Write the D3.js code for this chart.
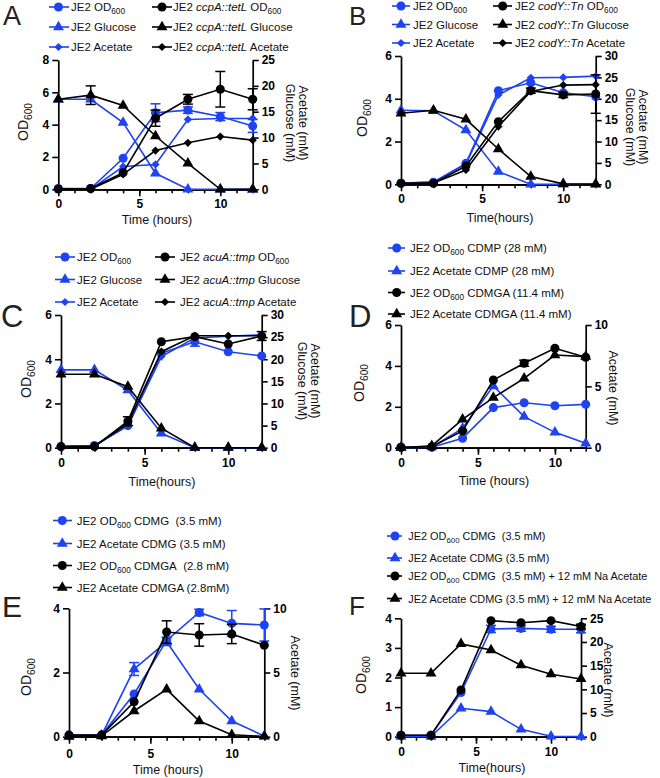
<!DOCTYPE html>
<html><head><meta charset="utf-8">
<script src="https://cdn.jsdelivr.net/npm/d3@7"></script>
<style>body{margin:0;background:#fff}svg{display:block}text{font-family:"Liberation Sans",Arial,Helvetica,sans-serif}</style>
</head><body><svg id="c" width="660" height="778"></svg>
<script>
// ---------- DATA ----------
const hours = [0, 2, 4, 6, 8, 10, 12];
const xMajorTicks = [0, 5, 10];

// Panel A (OD600 left axis, mM right axis)
const aJE2OD    = [0.05, 0.05, 1.92, 4.74, 4.9, 4.5, 3.92];
const aJE2ODErr = [0, 0, 0, 0.55, 0.2, 0.25, 0.4];
const aJE2Glc   = [17.4, 17.4, 12.9, 3.1, 0, 0, 0];
const aJE2Ace   = [0, 0, 4.4, 4.8, 13.5, 13.7, 13.7];
const aMutOD    = [0.02, 0.05, 1.03, 4.4, 5.57, 6.19, 5.57];
const aMutODErr = [0, 0, 0, 0.5, 0.3, 1.1, 0.65];
const aMutGlc   = [17.4, 18.2, 16.2, 10.3, 5.0, 0, 0];
const aMutGlcErr= [0, 1.8, 0, 0, 0, 0, 0];
const aMutAce   = [0, 0, 2.9, 7.5, 9.0, 10.2, 9.5];

// Panel B
const bJE2OD    = [0.05, 0.1, 0.98, 4.38, 4.75, 4.28, 4.1];
const bJE2Glc   = [17.3, 17.2, 12.7, 2.95, 0, 0, 0];
const bJE2Ace   = [0.3, 0.5, 4.7, 20.9, 24.9, 25.0, 25.3];
const bMutOD    = [0.05, 0.05, 0.85, 2.93, 4.38, 4.18, 4.22];
const bMutODErr = [0, 0, 0, 0, 0.12, 0.12, 0.9];
const bMutGlc   = [16.6, 17.3, 15.2, 8.25, 1.8, 0.1, 0.05];
const bMutAce   = [0.2, 0.3, 3.35, 13.5, 21.7, 23.2, 23.3];

// Panel C
const cJE2OD    = [0.05, 0.1, 1.0, 4.27, 4.79, 4.34, 4.15];
const cJE2ODErr = [0, 0, 0, 0, 0.2, 0, 0];
const cJE2Glc   = [17.6, 17.6, 13.0, 3.25, 0, 0, 0];
const cJE2Ace   = [0.3, 0.5, 4.9, 20.6, 24.8, 25.2, 25.5];
const cMutOD    = [0.05, 0.05, 1.2, 4.79, 5.02, 4.69, 5.05];
const cMutODErr = [0, 0, 0.2, 0, 0, 0, 0.2];
const cMutGlc   = [16.6, 16.6, 13.8, 4.4, 0, 0, 0];
const cMutAce   = [0.2, 0.3, 5.5, 21.7, 25.3, 25.3, 25.3];

// Panel D
const dCDMPOD     = [0.02, 0.02, 0.46, 1.96, 2.2, 2.05, 2.12];
const dCDMPAce    = [0, 0.05, 1.58, 5.03, 2.53, 1.25, 0.36];
const dCDMGAOD    = [0.02, 0.05, 0.82, 3.31, 4.13, 4.86, 4.42];
const dCDMGAODErr = [0, 0, 0, 0, 0.15, 0, 0];
const dCDMGAAce   = [0, 0.15, 2.31, 4.08, 5.65, 7.55, 7.42];

// Panel E
const eCDMGOD      = [0.05, 0.05, 1.33, 3.0, 3.87, 3.53, 3.48];
const eCDMGODErr   = [0, 0, 0, 0.1, 0.1, 0.4, 0.5];
const eCDMGAce     = [0.05, 0.1, 5.27, 7.4, 3.69, 1.22, 0.05];
const eCDMGAceErr  = [0, 0, 0.5, 0.3, 0, 0, 0];
const eCDMGAOD     = [0.05, 0.05, 1.09, 3.26, 3.17, 3.2, 2.85];
const eCDMGAODErr  = [0, 0, 0, 0.35, 0.35, 0.3, 0];
const eCDMGAAce    = [0, 0.05, 2.0, 3.69, 1.22, 0.15, 0.02];

// Panel F
const fCDMGOD    = [0.05, 0.05, 1.49, 3.64, 3.66, 3.63, 3.63];
const fCDMGODErr = [0, 0, 0, 0.12, 0.1, 0.1, 0.12];
const fCDMGAce   = [0, 0.05, 6.0, 5.3, 1.55, 0.1, 0.05];
const fNaOD      = [0.05, 0.05, 1.58, 3.92, 3.85, 3.92, 3.72];
const fNaODErr   = [0, 0, 0, 0, 0, 0, 0.08];
const fNaAce     = [13.4, 13.4, 19.6, 18.3, 15.1, 13.2, 12.2];

// ---------- STYLE / LAYOUT ----------
const BLUE = "#1f42f2", BLACK = "#000";
const svg = d3.select("#c");

const panels = [
 { letter:"A", lx:3, ly:25, lfs:27, legFs:11.5,
   box:{x0:58.3, x1:252.7, yT:60, yB:189.3}, lMax:8, lTicks:[0,2,4,6,8], rMax:25, rTicks:[0,5,10,15,20,25],
   yTitle:{x:28, y:122}, rTitle:{x:299, y:123, lines:["Acetate (mM)","Glucose (mM)"]},
   xTitle:{x:157, y:224, t:"Time (hours)"}, xLabDy:17.5,
   legend:{rows:[11,31,51], cols:[{sx:58.5,l0:49,l1:69,tx:71},{sx:162,l0:152,l1:172,tx:173}]},
   series:[
    {v:aJE2OD, e:aJE2ODErr, ax:"l", c:BLUE, s:"circle", lab:"JE2 OD_{600}", col:0, row:0},
    {v:aJE2Glc, ax:"r", c:BLUE, s:"triangle", lab:"JE2 Glucose", col:0, row:1},
    {v:aJE2Ace, ax:"r", c:BLUE, s:"diamond", lab:"JE2 Acetate", col:0, row:2},
    {v:aMutOD, e:aMutODErr, ax:"l", c:BLACK, s:"circle", lab:"JE2 *ccpA::tetL* OD_{600}", col:1, row:0},
    {v:aMutGlc, e:aMutGlcErr, ax:"r", c:BLACK, s:"triangle", lab:"JE2 *ccpA::tetL* Glucose", col:1, row:1},
    {v:aMutAce, ax:"r", c:BLACK, s:"diamond", lab:"JE2 *ccpA::tetL* Acetate", col:1, row:2}
   ]},
 { letter:"B", lx:349, ly:25, lfs:26, legFs:11.5,
   box:{x0:401, x1:595.7, yT:56, yB:184.3}, lMax:6, lTicks:[0,2,4,6], rMax:30, rTicks:[0,5,10,15,20,25,30],
   yTitle:{x:367, y:118}, rTitle:{x:639, y:127, lines:["Acetate (mM)","Glucose (mM)"]},
   xTitle:{x:500, y:222, t:"Time(hours)"}, xLabDy:17.5,
   legend:{rows:[10,28.5,47], cols:[{sx:401,l0:392,l1:410,tx:413},{sx:502.7,l0:493,l1:512,tx:515}]},
   series:[
    {v:bJE2OD, ax:"l", c:BLUE, s:"circle", lab:"JE2 OD_{600}", col:0, row:0},
    {v:bJE2Glc, ax:"r", c:BLUE, s:"triangle", lab:"JE2 Glucose", col:0, row:1},
    {v:bJE2Ace, ax:"r", c:BLUE, s:"diamond", lab:"JE2 Acetate", col:0, row:2},
    {v:bMutOD, e:bMutODErr, ax:"l", c:BLACK, s:"circle", lab:"JE2 *codY::Tn* OD_{600}", col:1, row:0},
    {v:bMutGlc, ax:"r", c:BLACK, s:"triangle", lab:"JE2 *codY::Tn* Glucose", col:1, row:1},
    {v:bMutAce, ax:"r", c:BLACK, s:"diamond", lab:"JE2 *codY::Tn* Acetate", col:1, row:2}
   ]},
 { letter:"C", lx:1, ly:327, lfs:31, legFs:11.5,
   box:{x0:61, x1:261.7, yT:315, yB:447.7}, lMax:6, lTicks:[0,2,4,6], rMax:30, rTicks:[0,5,10,15,20,25,30],
   yTitle:{x:31, y:379}, rTitle:{x:311, y:381, lines:["Acetate (mM)","Glucose (mM)"]},
   xTitle:{x:162, y:486, t:"Time(hours)"}, xLabDy:17.5,
   legend:{rows:[261,283.5,306], cols:[{sx:65,l0:55,l1:75,tx:77},{sx:165,l0:155,l1:175,tx:180}]},
   series:[
    {v:cJE2OD, e:cJE2ODErr, ax:"l", c:BLUE, s:"circle", lab:"JE2 OD_{600}", col:0, row:0},
    {v:cJE2Glc, ax:"r", c:BLUE, s:"triangle", lab:"JE2 Glucose", col:0, row:1},
    {v:cJE2Ace, ax:"r", c:BLUE, s:"diamond", lab:"JE2 Acetate", col:0, row:2},
    {v:cMutOD, e:cMutODErr, ax:"l", c:BLACK, s:"circle", lab:"JE2 *acuA::tmp* OD_{600}", col:1, row:0},
    {v:cMutGlc, ax:"r", c:BLACK, s:"triangle", lab:"JE2 *acuA::tmp* Glucose", col:1, row:1},
    {v:cMutAce, ax:"r", c:BLACK, s:"diamond", lab:"JE2 *acuA::tmp* Acetate", col:1, row:2}
   ]},
 { letter:"D", lx:349, ly:327, lfs:31, legFs:11.5,
   box:{x0:401, x1:585.7, yT:325, yB:447.7}, lMax:6, lTicks:[0,2,4,6], rMax:10, rTicks:[0,5,10],
   yTitle:{x:364, y:383}, rTitle:{x:609, y:388, lines:["Acetate (mM)"]},
   xTitle:{x:494, y:485, t:"Time (hours)"}, xLabDy:17.5,
   legend:{rows:[252,275,296.5,318], cols:[{sx:396.7,l0:388,l1:405,tx:410}]},
   series:[
    {v:dCDMPOD, ax:"l", c:BLUE, s:"circle", lab:"JE2 OD_{600} CDMP (28 mM)", col:0, row:0},
    {v:dCDMPAce, ax:"r", c:BLUE, s:"triangle", lab:"JE2 Acetate CDMP (28 mM)", col:0, row:1},
    {v:dCDMGAOD, e:dCDMGAODErr, ax:"l", c:BLACK, s:"circle", lab:"JE2 OD_{600} CDMGA (11.4 mM)", col:0, row:2},
    {v:dCDMGAAce, ax:"r", c:BLACK, s:"triangle", lab:"JE2 Acetate CDMGA (11.4 mM)", col:0, row:3}
   ]},
 { letter:"E", lx:2, ly:617, lfs:30, legFs:11.5,
   box:{x0:69, x1:264.3, yT:608.3, yB:736.7}, lMax:4, lTicks:[0,2,4], rMax:10, rTicks:[0,5,10],
   yTitle:{x:31, y:677}, rTitle:{x:291, y:673, lines:["Acetate (mM)"]},
   xTitle:{x:168, y:774, t:"Time (hours)"}, xLabDy:19.5,
   legend:{rows:[524.5,547.5,569.5,591.5], cols:[{sx:62.3,l0:53,l1:72,tx:76.7}]},
   series:[
    {v:eCDMGOD, e:eCDMGODErr, ax:"l", c:BLUE, s:"circle", lab:"JE2 OD_{600} CDMG\u00a0 (3.5 mM)", col:0, row:0},
    {v:eCDMGAce, e:eCDMGAceErr, ax:"r", c:BLUE, s:"triangle", lab:"JE2 Acetate CDMG (3.5 mM)", col:0, row:1},
    {v:eCDMGAOD, e:eCDMGAODErr, ax:"l", c:BLACK, s:"circle", lab:"JE2 OD_{600} CDMGA\u00a0 (2.8 mM)", col:0, row:2},
    {v:eCDMGAAce, ax:"r", c:BLACK, s:"triangle", lab:"JE2 Acetate CDMGA (2.8mM)", col:0, row:3}
   ]},
 { letter:"F", lx:349, ly:615, lfs:26, legFs:10.9,
   box:{x0:401, x1:581, yT:618.3, yB:736.7}, lMax:4, lTicks:[0,1,2,3,4], rMax:25, rTicks:[0,5,10,15,20,25],
   yTitle:{x:366, y:675}, rTitle:{x:604, y:680, lines:["Acetate (mM)"]},
   xTitle:{x:492, y:772, t:"Time(hours)"}, xLabDy:18,
   legend:{rows:[540,562,580,602.5], cols:[{sx:395,l0:387,l1:402,tx:408.3}]},
   series:[
    {v:fCDMGOD, e:fCDMGODErr, ax:"l", c:BLUE, s:"circle", lab:"JE2 OD_{600} CDMG\u00a0 (3.5 mM)", col:0, row:0},
    {v:fCDMGAce, ax:"r", c:BLUE, s:"triangle", lab:"JE2 Acetate CDMG (3.5 mM)", col:0, row:1},
    {v:fNaOD, e:fNaODErr, ax:"l", c:BLACK, s:"circle", lab:"JE2 OD_{600} CDMG\u00a0 (3.5 mM) + 12 mM Na Acetate", col:0, row:2},
    {v:fNaAce, ax:"r", c:BLACK, s:"triangle", lab:"JE2 Acetate CDMG (3.5 mM) + 12 mM Na Acetate", col:0, row:3}
   ]}
];

const symGen = {
  circle: d3.symbol().type(d3.symbolCircle).size(64),
  triangle: d3.symbol().type(d3.symbolTriangle).size(52),
  diamond: d3.symbol().type(d3.symbolSquare).size(34)
};
function drawSym(g, s, x, y, c) {
  g.append("path").attr("d", symGen[s]())
    .attr("transform", `translate(${x},${y})` + (s === "diamond" ? " rotate(45)" : ""))
    .attr("fill", c).attr("stroke", "none");
}
function richText(sel, str, fs) {
  const parts = str.split(/(_\{[^}]*\}|\*[^*]*\*)/).filter(p => p.length);
  let pendingDy = 0;
  parts.forEach(p => {
    let ts;
    if (p.startsWith("_{")) {
      ts = sel.append("tspan").attr("font-size", fs * 0.72).attr("dy", pendingDy + fs * 0.3).text(p.slice(2, -1));
      pendingDy = -fs * 0.3;
      return;
    } else if (p.startsWith("*")) {
      ts = sel.append("tspan").attr("font-style", "italic").text(p.slice(1, -1));
    } else {
      ts = sel.append("tspan").text(p);
    }
    if (pendingDy) { ts.attr("dy", pendingDy); pendingDy = 0; }
  });
}
function styleAxis(g) {
  g.selectAll("path.domain").attr("stroke", "#000").attr("stroke-width", 1.7);
  g.selectAll(".tick line").attr("stroke", "#000").attr("stroke-width", 1.6);
  g.selectAll(".tick text").attr("font-family", '"Liberation Sans",Arial,sans-serif')
    .attr("font-size", 12).attr("font-weight", "bold").attr("fill", "#000");
}
const intFmt = d3.format("d");

panels.forEach(p => {
  const b = p.box;
  const x = d3.scaleLinear().domain([0, 12]).range([b.x0, b.x1]);
  const yl = d3.scaleLinear().domain([0, p.lMax]).range([b.yB, b.yT]);
  const yr = d3.scaleLinear().domain([0, p.rMax]).range([b.yB, b.yT]);
  const g = svg.append("g");

  // panel letter
  g.append("text").attr("x", p.lx).attr("y", p.ly).attr("font-size", p.lfs)
    .attr("font-weight", "normal").attr("fill", "#222").text(p.letter);

  // axes
  const gxMinor = g.append("g").attr("transform", `translate(0,${b.yB})`)
    .call(d3.axisBottom(x).tickValues(d3.range(0, 13)).tickSize(4).tickSizeOuter(0));
  gxMinor.selectAll("text").remove();
  styleAxis(gxMinor);
  const gx = g.append("g").attr("transform", `translate(0,${b.yB})`)
    .call(d3.axisBottom(x).tickValues(xMajorTicks).tickFormat(intFmt).tickSize(7).tickSizeOuter(0).tickPadding(p.xLabDy - 14));
  styleAxis(gx);
  const gl = g.append("g").attr("transform", `translate(${b.x0},0)`)
    .call(d3.axisLeft(yl).tickValues(p.lTicks).tickFormat(intFmt).tickSize(6).tickSizeOuter(0).tickPadding(3));
  styleAxis(gl);
  const gr = g.append("g").attr("transform", `translate(${b.x1},0)`)
    .call(d3.axisRight(yr).tickValues(p.rTicks).tickFormat(intFmt).tickSize(6).tickSizeOuter(0).tickPadding(3));
  styleAxis(gr);

  // titles
  const yt = g.append("text").attr("transform", `translate(${p.yTitle.x},${p.yTitle.y}) rotate(-90)`)
    .attr("text-anchor", "middle").attr("font-size", 14).attr("font-weight", "normal").attr("fill", "#111");
  richText(yt, "OD_{600}", 14);
  p.rTitle.lines.forEach((ln, i) => {
    g.append("text").attr("transform", `translate(${p.rTitle.x - i * 13},${p.rTitle.y}) rotate(90)`)
      .attr("text-anchor", "middle").attr("font-size", 12.5).attr("font-weight", "normal").attr("fill", "#111").text(ln);
  });
  g.append("text").attr("x", p.xTitle.x).attr("y", p.xTitle.y).attr("text-anchor", "middle")
    .attr("font-size", 12.5).attr("font-weight", "normal").attr("fill", "#111").text(p.xTitle.t);

  // series
  p.series.forEach(s => {
    const ys = s.ax === "l" ? yl : yr;
    const pts = hours.map((h, i) => [x(h), ys(s.v[i]), s.e ? s.e[i] : 0, s.v[i]]);
    g.append("path").attr("d", d3.line()(pts.map(q => [q[0], q[1]])))
      .attr("fill", "none").attr("stroke", s.c).attr("stroke-width", 1.6);
    pts.forEach(q => {
      if (q[2] > 0) {
        const y1 = ys(q[3] + q[2]), y2 = ys(Math.max(0, q[3] - q[2]));
        g.append("line").attr("x1", q[0]).attr("x2", q[0]).attr("y1", y1).attr("y2", y2).attr("stroke", s.c).attr("stroke-width", 1.5);
        [y1, y2].forEach(yy => g.append("line").attr("x1", q[0] - 5).attr("x2", q[0] + 5).attr("y1", yy).attr("y2", yy)
          .attr("stroke", s.c).attr("stroke-width", 1.5));
      }
    });
    pts.forEach(q => drawSym(g, s.s, q[0], q[1], s.c));

    // legend entry
    const col = p.legend.cols[s.col], ly = p.legend.rows[s.row] - 4;
    g.append("line").attr("x1", col.l0).attr("x2", col.l1).attr("y1", ly).attr("y2", ly).attr("stroke", s.c).attr("stroke-width", 1.6);
    drawSym(g, s.s, col.sx, ly, s.c);
    const t = g.append("text").attr("x", col.tx).attr("y", p.legend.rows[s.row]).attr("font-size", p.legFs)
      .attr("font-weight", "normal").attr("fill", "#111");
    richText(t, s.lab, p.legFs);
  });
});
</script></body></html>
